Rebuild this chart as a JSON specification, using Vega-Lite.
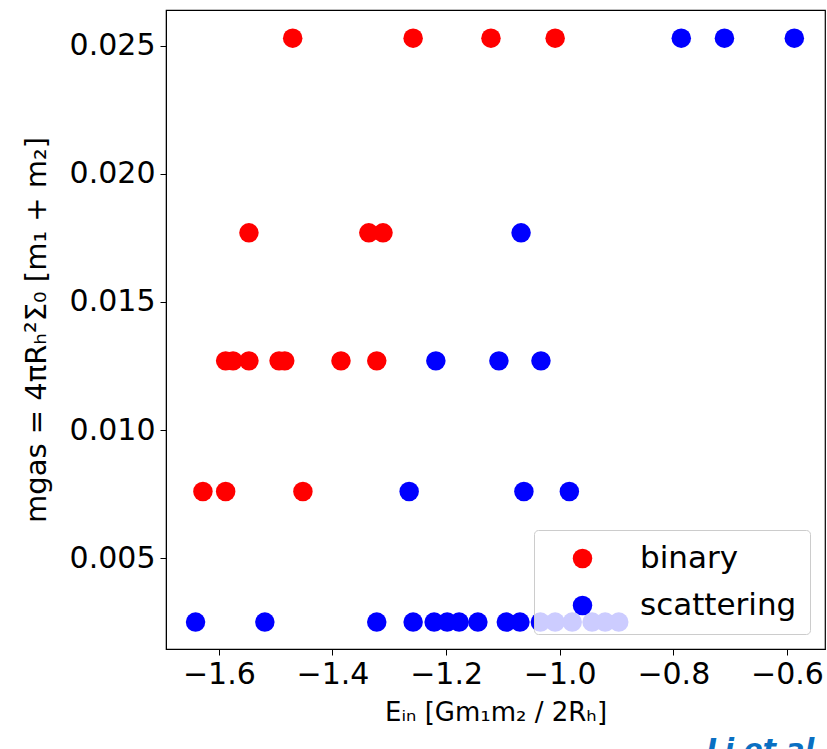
{
  "$schema": "https://vega.github.io/schema/vega-lite/v6.json",
  "autosize": "none",
  "width": 659,
  "height": 639,
  "padding": {"left": 166, "top": 10, "right": 2, "bottom": 100},
  "background": "white",
  "title": {"text": "Li et al.", "orient": "bottom", "anchor": "end", "color": "#0a6fc2", "fontSize": 28, "fontWeight": "bold", "fontStyle": "italic", "font": "DejaVu Sans", "offset": 12},
  "config": {
    "view": {"stroke": "black", "strokeWidth": 1.2},
    "font": "DejaVu Sans"
  },
  "data": {"values": [
    {"E": -1.470, "m": 0.0253, "outcome": "binary"},
    {"E": -1.258, "m": 0.0253, "outcome": "binary"},
    {"E": -1.121, "m": 0.0253, "outcome": "binary"},
    {"E": -1.008, "m": 0.0253, "outcome": "binary"},
    {"E": -0.786, "m": 0.0253, "outcome": "scattering"},
    {"E": -0.710, "m": 0.0253, "outcome": "scattering"},
    {"E": -0.587, "m": 0.0253, "outcome": "scattering"},
    {"E": -1.547, "m": 0.0177, "outcome": "binary"},
    {"E": -1.336, "m": 0.0177, "outcome": "binary"},
    {"E": -1.311, "m": 0.0177, "outcome": "binary"},
    {"E": -1.068, "m": 0.0177, "outcome": "scattering"},
    {"E": -1.588, "m": 0.0127, "outcome": "binary"},
    {"E": -1.575, "m": 0.0127, "outcome": "binary"},
    {"E": -1.547, "m": 0.0127, "outcome": "binary"},
    {"E": -1.494, "m": 0.0127, "outcome": "binary"},
    {"E": -1.484, "m": 0.0127, "outcome": "binary"},
    {"E": -1.385, "m": 0.0127, "outcome": "binary"},
    {"E": -1.322, "m": 0.0127, "outcome": "binary"},
    {"E": -1.218, "m": 0.0127, "outcome": "scattering"},
    {"E": -1.107, "m": 0.0127, "outcome": "scattering"},
    {"E": -1.033, "m": 0.0127, "outcome": "scattering"},
    {"E": -1.628, "m": 0.0076, "outcome": "binary"},
    {"E": -1.588, "m": 0.0076, "outcome": "binary"},
    {"E": -1.452, "m": 0.0076, "outcome": "binary"},
    {"E": -1.265, "m": 0.0076, "outcome": "scattering"},
    {"E": -1.063, "m": 0.0076, "outcome": "scattering"},
    {"E": -0.983, "m": 0.0076, "outcome": "scattering"},
    {"E": -1.641, "m": 0.0025, "outcome": "scattering"},
    {"E": -1.519, "m": 0.0025, "outcome": "scattering"},
    {"E": -1.322, "m": 0.0025, "outcome": "scattering"},
    {"E": -1.258, "m": 0.0025, "outcome": "scattering"},
    {"E": -1.221, "m": 0.0025, "outcome": "scattering"},
    {"E": -1.198, "m": 0.0025, "outcome": "scattering"},
    {"E": -1.177, "m": 0.0025, "outcome": "scattering"},
    {"E": -1.144, "m": 0.0025, "outcome": "scattering"},
    {"E": -1.094, "m": 0.0025, "outcome": "scattering"},
    {"E": -1.070, "m": 0.0025, "outcome": "scattering"},
    {"E": -1.034, "m": 0.0025, "outcome": "scattering"},
    {"E": -1.008, "m": 0.0025, "outcome": "scattering"},
    {"E": -0.978, "m": 0.0025, "outcome": "scattering"},
    {"E": -0.943, "m": 0.0025, "outcome": "scattering"},
    {"E": -0.920, "m": 0.0025, "outcome": "scattering"},
    {"E": -0.896, "m": 0.0025, "outcome": "scattering"}
  ]},
  "mark": {"type": "point", "filled": true, "opacity": 1, "size": 380, "shape": "circle"},
  "encoding": {
    "x": {
      "field": "E", "type": "quantitative",
      "scale": {"domain": [-1.693, -0.533], "nice": false, "zero": false},
      "axis": {
        "title": "Eᵢₙ  [Gm₁m₂ / 2Rₕ]",
        "titleFontSize": 26, "titleFontWeight": "normal", "titleColor": "black", "titlePadding": 10,
        "values": [-1.6, -1.4, -1.2, -1.0, -0.8, -0.6], "format": ".1f",
        "labelFontSize": 30, "labelColor": "black", "labelPadding": 4,
        "tickColor": "black", "tickSize": 6, "domainColor": "black", "grid": false
      }
    },
    "y": {
      "field": "m", "type": "quantitative",
      "scale": {"domain": [0.00145, 0.0264], "nice": false, "zero": false},
      "axis": {
        "title": "mgas = 4πRₕ²Σ₀  [m₁ + m₂]",
        "titleFontSize": 29, "titleFontWeight": "normal", "titleColor": "black", "titlePadding": 18,
        "values": [0.005, 0.010, 0.015, 0.020, 0.025], "format": ".3f",
        "labelFontSize": 30, "labelColor": "black", "labelPadding": 5,
        "tickColor": "black", "tickSize": 6, "domainColor": "black", "grid": false
      }
    },
    "color": {
      "field": "outcome", "type": "nominal",
      "scale": {"domain": ["binary", "scattering"], "range": ["#ff0000", "#0000ff"]},
      "legend": {
        "title": null, "orient": "bottom-right", "offset": 15,
        "labelFontSize": 31, "labelColor": "black", "labelOffset": 42,
        "symbolSize": 380, "symbolType": "circle", "symbolOpacity": 1, "symbolStrokeWidth": 0,
        "rowPadding": 15, "padding": 13, "symbolOffset": 20,
        "fillColor": "rgba(255,255,255,0.8)", "strokeColor": "#cccccc", "cornerRadius": 4
      }
    }
  }
}
